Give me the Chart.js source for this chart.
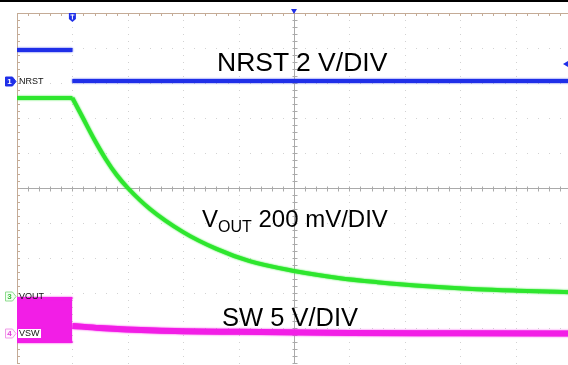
<!DOCTYPE html>
<html>
<head>
<meta charset="utf-8">
<script src="https://cdn.jsdelivr.net/npm/chart.js@4.4.0/dist/chart.umd.min.js"></script>
<style>
  html, body { margin: 0; padding: 0; background: #fff; }
  #scope { position: relative; width: 568px; height: 365px; overflow: hidden; background: #fff;
           font-family: "Liberation Sans", Arial, sans-serif; }
  #scope canvas { position: absolute; left: 0; top: 0; }
  .topbar { position: absolute; left: 0; top: 0; width: 568px; height: 2px; background: #000; }
  .note { position: absolute; color: #000; line-height: 1; white-space: nowrap; }
  .note sub { font-size: 16px; vertical-align: baseline; position: relative; top: 5px; }
  .tag { position: absolute; font-size: 9px; line-height: 1; color: #111; white-space: nowrap; }
  .tag.boxed { background: #fff; padding: 0 1px; }
</style>
</head>
<body>
<div id="scope">
  <canvas id="scopeCanvas" width="580" height="365"></canvas>
  <div class="topbar"></div>
  <div class="note" style="left:217px; top:49px; font-size:26.5px;">NRST 2 V/DIV</div>
  <div class="note" style="left:202px; top:207px; font-size:24px;">V<sub>OUT</sub> 200 mV/DIV</div>
  <div class="note" style="left:222px; top:305px; font-size:25.5px;">SW 5 V/DIV</div>
  <div class="tag" style="left:19px; top:77px;">NRST</div>
  <div class="tag" style="left:19px; top:292px;">VOUT</div>
  <div class="tag boxed" style="left:18px; top:329px;">VSW</div>
</div>
<script>
// time in divisions (10 across), level in divisions (0 = centre line)
const triggerDiv = 1.0;

const nrstTime = [0, 1.0, 1.0, 10];
const nrstLevel = [3.94, 3.94, 3.06, 3.06];

const voutTime = [0, 1.0, 1.2, 1.4, 1.6, 1.8, 2.0, 2.4, 3.0, 3.6, 4.2, 5.0, 5.8, 6.5, 7.4, 8.3, 9.2, 10.0];
const voutLevel = [2.57, 2.57, 1.97, 1.37, 0.83, 0.37, 0.0, -0.6, -1.26, -1.74, -2.09, -2.37, -2.57, -2.69, -2.81, -2.89, -2.94, -2.98];

const swBandTime = [0, 1.0];
const swBandTop = [-3.14, -3.14];
const swBandBottom = [-4.4, -4.4];

const swTime = [1.0, 1.5, 2.5, 4.0, 6.0, 8.0, 10.0];
const swLevel = [-3.94, -4.0, -4.07, -4.11, -4.14, -4.15, -4.16];

const BLUE = '#1f2fe8';
const GREEN = '#2ee62e';
const MAGENTA = '#f21ee6';

function points(times, levels, keep) {
    return times.map((t, i) => ({ x: t, y: levels[i] })).filter((p, i) => keep(times[i], i));
}

function trace(label, data, color, width, extra) {
    return Object.assign({
        label: label,
        data: data,
        borderColor: color,
        backgroundColor: color,
        borderWidth: width,
        pointRadius: 0,
        fill: false,
        tension: 0
    }, extra || {});
}

// soft phosphor edge on every trace
const traceGlow = {
    id: 'traceGlow',
    beforeDatasetDraw(chart, args) {
        const ctx = chart.ctx;
        ctx.save();
        ctx.shadowColor = args.meta.dataset.options.borderColor;
        ctx.shadowBlur = 2;
    },
    afterDatasetDraw(chart) {
        chart.ctx.restore();
    }
};

// graticule: dotted division lines, centre cross and edge ticks
const scopeGrid = {
    id: 'scopeGrid',
    beforeDatasetsDraw(chart) {
        const { ctx, chartArea: a, scales: { x, y } } = chart;
        ctx.save();
        ctx.fillStyle = '#d2d2d2';
        for (let i = 1; i < 10; i++) {
            const px = Math.round(x.getPixelForValue(i));
            for (let k = 0; k <= 50; k++) {
                ctx.fillRect(px, Math.round(y.getPixelForValue(-5 + k * 0.2)), 1, 1);
            }
        }
        for (let j = -4; j <= 4; j++) {
            const py = Math.round(y.getPixelForValue(j));
            for (let k = 0; k <= 50; k++) {
                ctx.fillRect(Math.round(x.getPixelForValue(k * 0.2)), py, 1, 1);
            }
        }
        // centre cross
        const cx = Math.round(x.getPixelForValue(5)) + 0.5;
        const cy = Math.round(y.getPixelForValue(0)) + 0.5;
        ctx.strokeStyle = '#aaaaaa';
        ctx.lineWidth = 1;
        ctx.beginPath();
        ctx.moveTo(a.left, cy); ctx.lineTo(a.right, cy);
        ctx.moveTo(cx, a.top); ctx.lineTo(cx, a.bottom);
        for (let k = 0; k <= 50; k++) {
            const tx = Math.round(x.getPixelForValue(k * 0.2)) + 0.5;
            ctx.moveTo(tx, cy - 2); ctx.lineTo(tx, cy + 3);
            const ty = Math.round(y.getPixelForValue(-5 + k * 0.2)) + 0.5;
            ctx.moveTo(cx - 2, ty); ctx.lineTo(cx + 3, ty);
        }
        ctx.stroke();
        // frame edges
        ctx.strokeStyle = '#c4ab96';
        ctx.beginPath();
        ctx.moveTo(a.left + 0.5, a.top); ctx.lineTo(a.left + 0.5, a.bottom);
        ctx.moveTo(a.left, a.top + 0.5); ctx.lineTo(a.right, a.top + 0.5);
        for (let k = 0; k <= 50; k++) {
            const tx = Math.round(x.getPixelForValue(k * 0.2)) + 0.5;
            ctx.moveTo(tx, a.top); ctx.lineTo(tx, a.top + 3);
            const ty = Math.round(y.getPixelForValue(-5 + k * 0.2)) + 0.5;
            ctx.moveTo(a.left, ty); ctx.lineTo(a.left + 3, ty);
        }
        ctx.stroke();
        ctx.restore();
    }
};

// trigger flags and channel markers
const scopeMarkers = {
    id: 'scopeMarkers',
    afterDraw(chart) {
        const { ctx, scales: { x } } = chart;
        ctx.save();
        // trigger position flag
        const tx = x.getPixelForValue(triggerDiv);
        ctx.fillStyle = BLUE;
        ctx.beginPath();
        ctx.moveTo(tx - 3.5, 13); ctx.lineTo(tx + 3.5, 13); ctx.lineTo(tx + 3.5, 19);
        ctx.lineTo(tx, 22); ctx.lineTo(tx - 3.5, 19); ctx.closePath(); ctx.fill();
        ctx.fillStyle = '#fff';
        ctx.fillRect(tx - 2, 14.5, 4, 1);
        ctx.fillRect(tx - 0.5, 14.5, 1, 5);
        // delay marker at the centre of the top edge
        const cx = x.getPixelForValue(5);
        ctx.fillStyle = BLUE;
        ctx.beginPath();
        ctx.moveTo(cx - 3, 9); ctx.lineTo(cx + 3, 9); ctx.lineTo(cx, 14); ctx.closePath(); ctx.fill();
        // trigger level arrow on the right
        ctx.beginPath();
        ctx.moveTo(563, 64); ctx.lineTo(568, 61); ctx.lineTo(568, 67); ctx.closePath(); ctx.fill();

        function chTag(py, stroke, fill, textColor, n) {
            ctx.beginPath();
            ctx.moveTo(5.5, py - 4.5); ctx.lineTo(12.5, py - 4.5); ctx.lineTo(16, py);
            ctx.lineTo(12.5, py + 4.5); ctx.lineTo(5.5, py + 4.5); ctx.closePath();
            ctx.fillStyle = fill; ctx.fill();
            ctx.strokeStyle = stroke; ctx.lineWidth = 1; ctx.stroke();
            ctx.fillStyle = textColor;
            ctx.font = 'bold 8px "Liberation Sans", Arial, sans-serif';
            ctx.textAlign = 'center'; ctx.textBaseline = 'middle';
            ctx.fillText(n, 9.5, py + 0.5);
        }
        chTag(81.5, BLUE, BLUE, '#fff', '1');
        chTag(296.5, '#8fdc8f', '#f2fff2', '#3cbf3c', '3');
        chTag(333.5, '#f09ae8', '#fff4fe', '#e03cd8', '4');
        ctx.restore();
    }
};

new Chart(document.getElementById('scopeCanvas').getContext('2d'), {
    type: 'line',
    data: {
        datasets: [
            trace('NRST', points(nrstTime, nrstLevel, (t, i) => i < 2), BLUE, 4),
            trace('NRST low', points(nrstTime, nrstLevel, (t, i) => i >= 2), BLUE, 4),
            trace('VOUT', points(voutTime, voutLevel, t => t <= triggerDiv), GREEN, 4),
            trace('VOUT decay', points(voutTime, voutLevel, t => t >= triggerDiv), GREEN, 4,
                { cubicInterpolationMode: 'monotone' }),
            trace('SW', points(swTime, swLevel, () => true), MAGENTA, 6,
                { cubicInterpolationMode: 'monotone' }),
            trace('SW band top', points(swBandTime, swBandTop, () => true), MAGENTA, 2,
                { fill: '+1' }),
            trace('SW band bottom', points(swBandTime, swBandBottom, () => true), MAGENTA, 2)
        ]
    },
    options: {
        responsive: false,
        animation: false,
        layout: { padding: { left: 17, top: 13, right: 9, bottom: 2 } },
        plugins: { legend: { display: false }, tooltip: { enabled: false } },
        scales: {
            x: { type: 'linear', min: 0, max: 10, display: false },
            y: { min: -5, max: 5, display: false }
        }
    },
    plugins: [traceGlow, scopeGrid, scopeMarkers]
});
</script>
</body>
</html>
